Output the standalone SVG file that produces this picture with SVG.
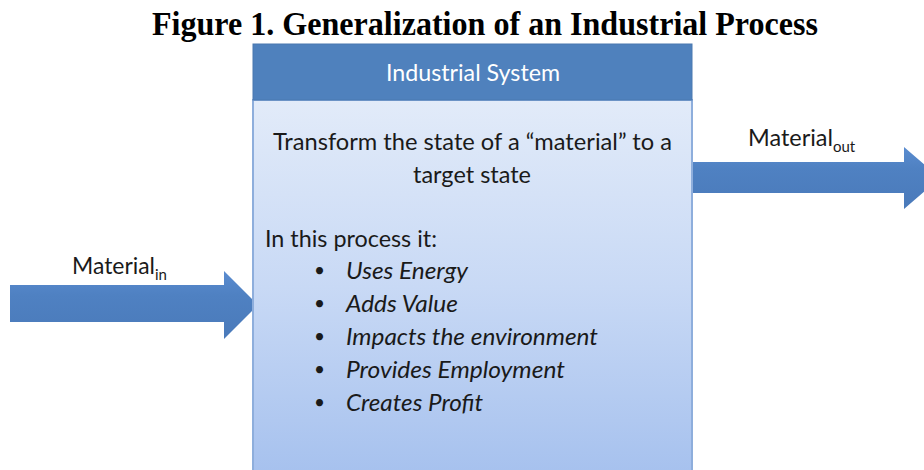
<svg xmlns="http://www.w3.org/2000/svg" width="924" height="470" viewBox="0 0 924 470">
  <style>
    .title { font-family: "Liberation Serif", "Times New Roman", serif; font-weight: bold; font-size: 33px; fill: #000; }
    .sans { font-family: Lato, "Liberation Sans", Arial, sans-serif; fill: #1a1a1a; }
    .head { font-family: Lato, "Liberation Sans", Arial, sans-serif; font-size: 23px; fill: #ffffff; }
    .body { font-size: 23px; }
    .item { font-size: 24px; font-style: italic; }
    .dot { font-size: 19px; font-style: normal; }
    .lbl { font-size: 23px; }
    .sub { font-size: 15px; }
    .arrow { fill: url(#arrowFill); }
  </style>
  <defs>
    <linearGradient id="bodyFill" x1="0" y1="0" x2="0" y2="1">
      <stop offset="0" stop-color="#e2ebf9"/>
      <stop offset="0.5" stop-color="#c8d9f5"/>
      <stop offset="1" stop-color="#a6c1ee"/>
    </linearGradient>
    <linearGradient id="arrowFill" x1="0" y1="0" x2="0" y2="1">
      <stop offset="0" stop-color="#5a8cd0"/>
      <stop offset="0.35" stop-color="#4f81c2"/>
      <stop offset="1" stop-color="#4a7aba"/>
    </linearGradient>
  </defs>

  <rect width="924" height="470" fill="#ffffff"/>

  <text class="title" x="485" y="35" text-anchor="middle" textLength="666" lengthAdjust="spacingAndGlyphs">Figure 1. Generalization of an Industrial Process</text>

  <!-- flow arrows -->
  <g id="connectors">
    <g id="material-in">
      <polygon class="arrow" points="10,285 224,285 224,271 258,305 224,339 224,322 10,322"/>
      <text class="sans lbl" x="72" y="274"><tspan textLength="83" lengthAdjust="spacingAndGlyphs">Material</tspan><tspan class="sub" dy="6">in</tspan></text>
    </g>
    <g id="material-out">
      <polygon class="arrow" points="692,162 904,162 904,147 940,178 904,209 904,193 692,193"/>
      <text class="sans lbl" x="748" y="146"><tspan textLength="85" lengthAdjust="spacingAndGlyphs">Material</tspan><tspan class="sub" dy="6">out</tspan></text>
    </g>
  </g>

  <!-- system block -->
  <g id="industrial-system">
    <rect x="253" y="100" width="439" height="375" fill="url(#bodyFill)" stroke="#8eaedc" stroke-width="2"/>
    <rect x="253" y="44" width="439" height="56" fill="#4f81bd" stroke="#4a78b0" stroke-width="1"/>
    <text class="head" x="386" y="81" textLength="174" lengthAdjust="spacingAndGlyphs">Industrial System</text>

    <text class="sans body" x="273" y="150" textLength="399" lengthAdjust="spacingAndGlyphs">Transform the state of a “material” to a</text>
    <text class="sans body" x="413" y="183" textLength="118" lengthAdjust="spacingAndGlyphs">target state</text>

    <text class="sans body" x="265" y="247" textLength="172" lengthAdjust="spacingAndGlyphs">In this process it:</text>
    <g class="sans item">
      <text class="dot" x="314" y="277">•</text><text x="346" y="279" textLength="122" lengthAdjust="spacingAndGlyphs">Uses Energy</text>
      <text class="dot" x="314" y="310">•</text><text x="346" y="312" textLength="112" lengthAdjust="spacingAndGlyphs">Adds Value</text>
      <text class="dot" x="314" y="343">•</text><text x="346" y="345" textLength="252" lengthAdjust="spacingAndGlyphs">Impacts the environment</text>
      <text class="dot" x="314" y="376">•</text><text x="346" y="378" textLength="219" lengthAdjust="spacingAndGlyphs">Provides Employment</text>
      <text class="dot" x="314" y="409">•</text><text x="346" y="411" textLength="137" lengthAdjust="spacingAndGlyphs">Creates Profit</text>
    </g>
  </g>
</svg>
